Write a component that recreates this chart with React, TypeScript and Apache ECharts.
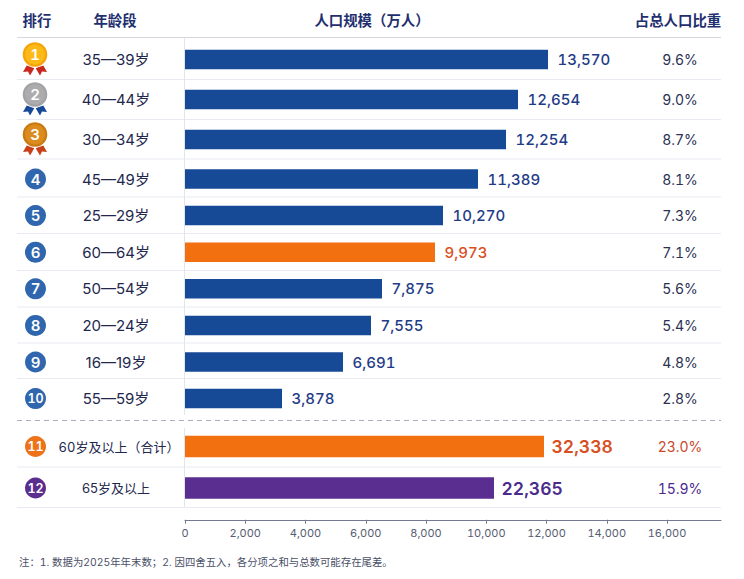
import React, { useEffect, useRef } from 'react'
import * as echarts from 'echarts'

const ranks = ['1', '2', '3', '4', '5', '6', '7', '8', '9', '10', '11', '12']
const ageBands = ['35—39岁', '40—44岁', '30—34岁', '45—49岁', '25—29岁', '60—64岁', '50—54岁', '20—24岁', '16—19岁', '55—59岁', '60岁及以上（合计）', '65岁及以上']
const printedValues = ['13,570', '12,654', '12,254', '11,389', '10,270', '9,973', '7,875', '7,555', '6,691', '3,878', '32,338', '22,365']
// the picture's bars do not follow the printed numbers, so these are the lengths
const barLengths = [12050, 11054, 10656, 9726, 8564, 8299, 6539, 6174, 5245, 3220, 11917, 10257]
const shares = ['9.6%', '9.0%', '8.7%', '8.1%', '7.3%', '7.1%', '5.6%', '5.4%', '4.8%', '2.8%', '23.0%', '15.9%']
const xTicks = [0, 2000, 4000, 6000, 8000, 10000, 12000, 14000, 16000]
const headers = ['排行', '年龄段', '人口规模（万人）', '占总人口比重']
const note = '注：1. 数据为2025年年末数；2. 因四舍五入，各分项之和与总数可能存在尾差。'

const FONT = 'Inter, "Noto Sans CJK SC", sans-serif'
const AXIS_LEFT = 185
const AXIS_RIGHT = 721
const X_MAX = 17792

const BLUE = '#174a96'
const ORANGE = '#f2700f'
const PURPLE = '#5a2d91'

// rows have three different pitches in the picture, hence three grids
const bands = [
  { top: 39.5, height: 120, from: 0, to: 3, barWidth: 19.5 },
  { top: 160.7, height: 256.2, from: 3, to: 10, barWidth: 19.5 },
  { top: 425.75, height: 83, from: 10, to: 12, barWidth: 21.5 },
]
const separators = [37.5, 79.5, 119.5, 159, 197, 233.5, 270.5, 307, 343, 378.5, 467, 507.5]

const rowY = (i: number) => {
  const b = bands.find(b => i >= b.from && i < b.to)!
  return b.top + (b.height / (b.to - b.from)) * (i - b.from + 0.5)
}

const barColor = (i: number) => {
  if (i === 5 || i === 10) return ORANGE
  if (i === 11) return PURPLE
  return BLUE
}

const valueColor = (i: number) => {
  if (i === 5 || i === 10) return '#d8501f'
  if (i === 11) return '#4b2a8c'
  return '#1f3c88'
}

const shareColor = (i: number) => {
  if (i === 10) return '#c9472a'
  if (i === 11) return '#4b2a8c'
  return '#2b3152'
}

const text = (str: string, x: number, y: number, style: any) => ({
  type: 'text',
  silent: true,
  z: 10,
  style: { text: str, x, y, textAlign: 'center', textVerticalAlign: 'middle', fontFamily: FONT, ...style },
})

const medalColors = [
  { rim: '#f5a50a', face: '#fdb917', ribbon: '#c8281e' },
  { rim: '#a3a3a6', face: '#acacaf', ribbon: '#174a96' },
  { rim: '#c97a12', face: '#dc8c1e', ribbon: '#c8401a' },
]

const medal = (i: number) => {
  const c = medalColors[i]
  const cx = 35
  const cy = rowY(i) - 5
  const left = [[-12, 17.5], [-8.3, 11], [-0.7, 13.7], [-5, 21], [-7, 17]]
  return [
    { type: 'polygon', z: 9, silent: true, shape: { points: left.map(([x, y]) => [cx + x, cy + y]) }, style: { fill: c.ribbon } },
    { type: 'polygon', z: 9, silent: true, shape: { points: left.map(([x, y]) => [cx - x, cy + y]) }, style: { fill: c.ribbon } },
    { type: 'circle', z: 9, silent: true, shape: { cx, cy, r: 12.3 }, style: { fill: c.rim } },
    { type: 'circle', z: 9, silent: true, shape: { cx, cy, r: 10 }, style: { fill: c.face } },
    text(ranks[i], cx, cy, { fill: '#fff', fontSize: 15, fontWeight: 600 }),
  ]
}

const badge = (i: number) => {
  const cx = 35.5
  const cy = rowY(i)
  const fill = i === 10 ? '#ee7218' : i === 11 ? '#5b2d8e' : '#2f66ad'
  return [
    { type: 'circle', z: 9, silent: true, shape: { cx, cy, r: 10.5 }, style: { fill } },
    text(ranks[i], cx, cy, { fill: '#fff', fontSize: i >= 9 ? 12.5 : 15, fontWeight: 600 }),
  ]
}

const hLine = (y: number, stroke: string, lineDash?: number[]) => ({
  type: 'line',
  silent: true,
  z: 0,
  shape: { x1: 17, y1: y, x2: AXIS_RIGHT, y2: y },
  style: { stroke, lineWidth: 1, lineDash },
})

const vLine = (y1: number, y2: number) => ({
  type: 'line',
  silent: true,
  z: 0,
  shape: { x1: AXIS_LEFT - 0.5, y1, x2: AXIS_LEFT - 0.5, y2 },
  style: { stroke: '#e2e5ef', lineWidth: 1 },
})

const option: any = {
  animation: false,
  backgroundColor: '#fff',
  textStyle: { fontFamily: FONT },
  grid: bands.map(b => ({ left: AXIS_LEFT, right: 744 - AXIS_RIGHT, top: b.top, height: b.height })),
  xAxis: bands.map((b, g) => ({
    gridIndex: g,
    type: 'value',
    min: 0,
    max: X_MAX,
    show: g === 2,
    position: 'bottom',
    offset: 11,
    splitLine: { show: false },
    axisLine: { show: true, lineStyle: { color: '#747a92', width: 1 } },
    axisTick: { show: true, length: 4, customValues: xTicks, lineStyle: { color: '#747a92' } },
    axisLabel: {
      customValues: xTicks,
      margin: 8,
      fontSize: 11,
      color: '#565c72',
      fontFamily: FONT,
      formatter: (v: number) => v.toLocaleString('en-US'),
    },
  })),
  yAxis: bands.map((b, g) => ({
    gridIndex: g,
    type: 'category',
    inverse: true,
    data: ageBands.slice(b.from, b.to),
    axisLine: { show: false },
    axisTick: { show: false },
    splitLine: { show: false },
    axisLabel: {
      interval: 0,
      margin: 69,
      align: 'center',
      fontSize: g === 2 ? 13 : 15,
      color: '#23274d',
      fontFamily: FONT,
      // the long label sits a little right of the column centre in the picture
      formatter: (v: string) => (v.includes('合计') ? `{shift|${v}}` : v),
      rich: { shift: { padding: [0, 0, 0, 6], fontSize: 13, color: '#23274d', fontFamily: FONT } },
    },
  })),
  series: bands.map((b, g) => ({
    type: 'bar',
    xAxisIndex: g,
    yAxisIndex: g,
    barWidth: b.barWidth,
    data: barLengths.slice(b.from, b.to).map((value, j) => {
      const i = b.from + j
      const big = i >= 10
      return {
        value,
        itemStyle: { color: barColor(i) },
        label: {
          show: true,
          position: 'right',
          distance: big ? 7.5 : 9.5,
          formatter: printedValues[i],
          color: valueColor(i),
          fontFamily: FONT,
          fontSize: big ? 17.5 : 15,
          fontWeight: big ? 600 : 500,
        },
      }
    }),
  })),
  graphic: [
    ...separators.map(y => hLine(y, y === 37.5 ? '#d5d8e2' : '#e9ebf2')),
    hLine(420.5, '#a9aeba', [5, 4]),
    vLine(38, 415),
    vLine(428, 507),
    ...[37, 115, 372, 678].map((x, k) => text(headers[k], x, 20, { fill: '#1f2f6f', fontSize: 14.4, fontWeight: 700 })),
    ...ranks.flatMap((_, i) => (i < 3 ? medal(i) : badge(i))),
    ...shares.map((s, i) => text(s, 680, rowY(i), { fill: shareColor(i), fontSize: 14 })),
    {
      type: 'text',
      silent: true,
      style: { text: note, x: 19, y: 562, textVerticalAlign: 'middle', fontFamily: FONT, fontSize: 10.4, fill: '#4a5068' },
    },
  ],
}

export default function App() {
  const chartRef = useRef<HTMLDivElement>(null)

  useEffect(() => {
    if (!chartRef.current) {
      return
    }
    const chart = echarts.init(chartRef.current, null, { renderer: 'svg' })
    chart.setOption(option)
    return () => {
      chart.dispose()
    }
  }, [])

  return (
    <div
      ref={chartRef}
      style={{ position: 'absolute', left: 0, top: 0, width: 744, height: 579, fontFeatureSettings: '"tnum"' }}
    />
  )
}
